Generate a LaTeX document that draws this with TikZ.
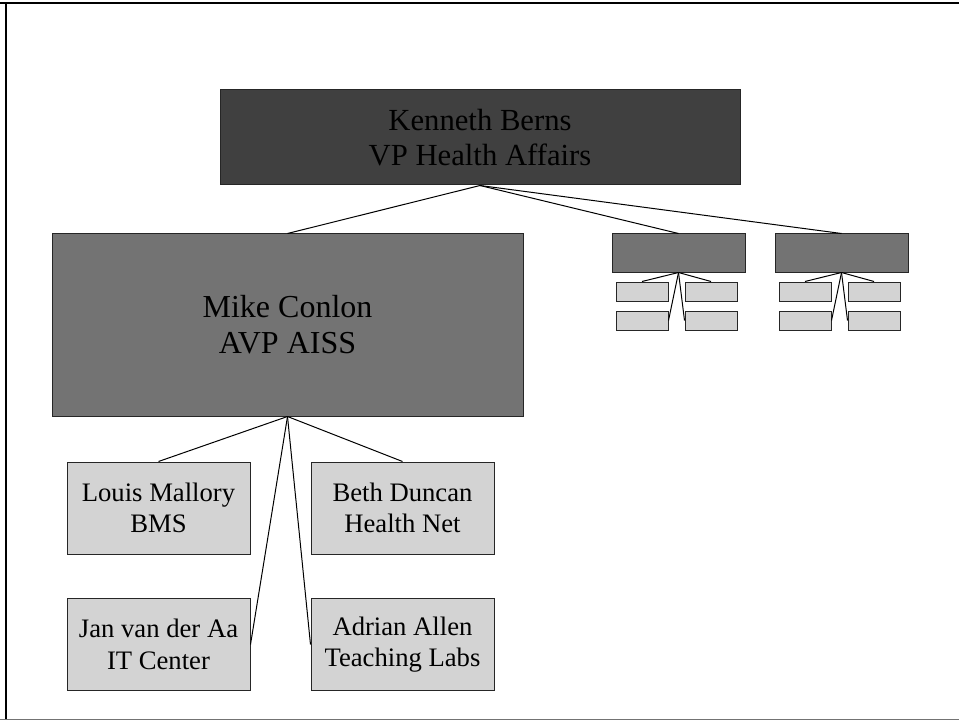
\documentclass[tikz,border=0pt]{standalone}
\usepackage{fontspec}
\setmainfont{Liberation Serif}
\usepackage{xcolor}
\usetikzlibrary{positioning}

\definecolor{darkbox}{HTML}{404040}
\definecolor{midbox}{HTML}{737373}
\definecolor{lightbox}{HTML}{D3D3D3}

\begin{document}
\begin{tikzpicture}[x=0.75pt,y=-0.75pt]
  % Box styles (sizes in pt)
  \tikzset{
    chief/.style={draw=black!85, line width=0.75pt, fill=darkbox, inner sep=0pt,
      minimum width=390pt, minimum height=71.25pt, align=center,
      font=\fontsize{23}{26.5}\selectfont},
    deputy/.style={draw=black!85, line width=0.75pt, fill=midbox, inner sep=0pt,
      minimum width=353.25pt, minimum height=136.5pt, align=center,
      font=\fontsize{24}{27}\selectfont},
    unit/.style={draw=black!85, line width=0.75pt, fill=midbox, inner sep=0pt,
      minimum width=99.75pt, minimum height=28.5pt},
    staff/.style={draw=black!85, line width=0.75pt, fill=lightbox, inner sep=0pt,
      minimum width=137.25pt, minimum height=69pt, align=center,
      font=\fontsize{20}{23.5}\selectfont},
    tiny/.style={draw=black!85, line width=0.75pt, fill=lightbox, inner sep=0pt,
      minimum width=39pt, minimum height=14.25pt},
    link/.style={line width=0.75pt, black}
  }

  \useasboundingbox (0,0) rectangle (959,720);

  % Slide frame
  \draw[line width=1.5pt] (0,3.5) -- (959,3.5);
  \draw[line width=1.5pt] (6,3.5) -- (6,720);
  \draw[line width=0.75pt, black!55] (0,719) -- (959,719);

  % Top of the chart
  \node[chief] (berns) at (480,137.5) {Kenneth Berns\\VP Health Affairs};

  % Second level
  \node[deputy] (conlon) at (287.5,325) {Mike Conlon\\AVP AISS};
  \node[unit] (unitA) at (678.5,253) {};
  \node[unit] (unitB) at (841.5,253) {};

  % Small boxes under the two units
  \node[tiny] (unitA_1) at (642,291.5) {};
  \node[tiny] (unitA_2) at (711,291.5) {};
  \node[tiny] (unitA_3) at (642,320.5) {};
  \node[tiny] (unitA_4) at (711,320.5) {};
  \node[tiny] (unitB_1) at (805,291.5) {};
  \node[tiny] (unitB_2) at (874,291.5) {};
  \node[tiny] (unitB_3) at (805,320.5) {};
  \node[tiny] (unitB_4) at (874,320.5) {};

  % Staff under Mike Conlon
  \node[staff] (mallory) at (158.5,508) {Louis Mallory\\BMS};
  \node[staff] (duncan) at (402.5,508) {Beth Duncan\\Health Net};
  \node[staff] (vanderaa) at (158.5,644.5) {Jan van der Aa\\IT Center};
  \node[staff] (allen) at (402.5,644.5) {Adrian Allen\\Teaching Labs};

  % Connectors
  \draw[link] (berns.south) -- (conlon.north);
  \draw[link] (berns.south) -- (unitA.north);
  \draw[link] (berns.south) -- (unitB.north);

  \draw[link] (unitA.south) -- (unitA_1.north);
  \draw[link] (unitA.south) -- (unitA_2.north);
  \draw[link] (unitA.south) -- (unitA_3.east);
  \draw[link] (unitA.south) -- (unitA_4.west);
  \draw[link] (unitB.south) -- (unitB_1.north);
  \draw[link] (unitB.south) -- (unitB_2.north);
  \draw[link] (unitB.south) -- (unitB_3.east);
  \draw[link] (unitB.south) -- (unitB_4.west);

  \draw[link] (conlon.south) -- (mallory.north);
  \draw[link] (conlon.south) -- (duncan.north);
  \draw[link] (conlon.south) -- (vanderaa.east);
  \draw[link] (conlon.south) -- (allen.west);
\end{tikzpicture}
\end{document}
